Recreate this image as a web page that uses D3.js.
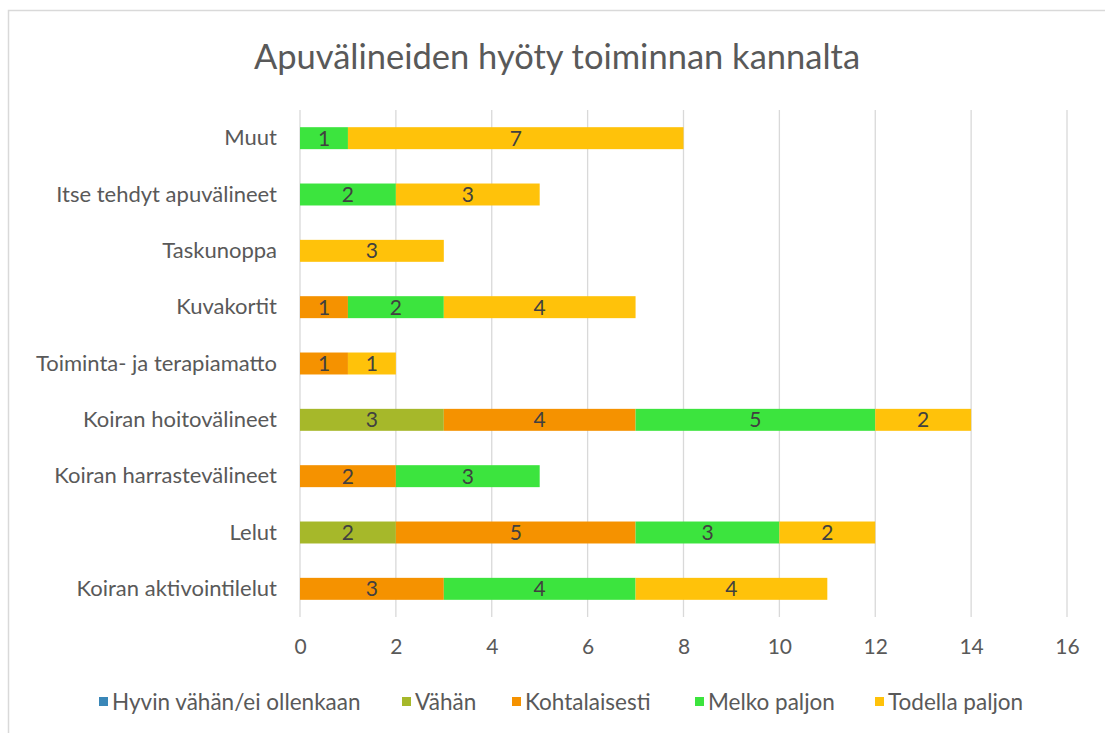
<!DOCTYPE html>
<html>
<head>
<meta charset="utf-8">
<script src="https://cdn.jsdelivr.net/npm/d3@7"></script>
<style>
  body { margin: 0; background: #fff; }
  text { font-family: Lato, "Open Sans", sans-serif; }
</style>
</head>
<body>
<script>
// data
var categories = ["Muut", "Itse tehdyt apuvälineet", "Taskunoppa", "Kuvakortit",
  "Toiminta- ja terapiamatto", "Koiran hoitovälineet", "Koiran harrastevälineet",
  "Lelut", "Koiran aktivointilelut"];
var seriesNames = ["Hyvin vähän/ei ollenkaan", "Vähän", "Kohtalaisesti", "Melko paljon", "Todella paljon"];
var hyvinVahan   = [0, 0, 0, 0, 0, 0, 0, 0, 0];
var vahan        = [0, 0, 0, 0, 0, 3, 0, 2, 0];
var kohtalaisesti= [0, 0, 0, 1, 1, 4, 2, 5, 3];
var melkoPaljon  = [1, 2, 0, 2, 0, 5, 3, 3, 4];
var todellaPaljon= [7, 3, 3, 4, 1, 2, 0, 2, 4];
var xTicks = [0, 2, 4, 6, 8, 10, 12, 14, 16];
var colors = ["#3A87B8", "#A6B82A", "#F59200", "#3CE43E", "#FFC20A"];

var W = 1105, H = 733;
var svg = d3.select("body").append("svg").attr("width", W).attr("height", H);

// frame
svg.append("rect").attr("x", 8.5).attr("y", 10.5).attr("width", W).attr("height", H)
  .attr("fill", "#fff").attr("stroke", "#D9D9D9").attr("stroke-width", 1.5);

svg.append("text").attr("x", 557).attr("y", 69).attr("text-anchor", "middle")
  .attr("font-size", 34.5).attr("fill", "#595959").text("Apuvälineiden hyöty toiminnan kannalta");

var pLeft = 300, pRight = 1067, pTop = 110, pBottom = 617;
var x = d3.scaleLinear().domain([0, 16]).range([pLeft, pRight]);
var y = d3.scaleBand().domain(categories).range([pTop, pBottom]).paddingInner(0.61).paddingOuter(0.305);

// grid
svg.append("g").selectAll("line").data(xTicks).enter().append("line")
  .attr("x1", function(d){ return x(d); }).attr("x2", function(d){ return x(d); })
  .attr("y1", pTop).attr("y2", pBottom)
  .attr("stroke", "#D9D9D9").attr("stroke-width", 1.3);

// stacked
var rows = categories.map(function(c, i){
  return { cat: c, s0: hyvinVahan[i], s1: vahan[i], s2: kohtalaisesti[i], s3: melkoPaljon[i], s4: todellaPaljon[i] };
});
var stack = d3.stack().keys(["s0", "s1", "s2", "s3", "s4"]);
var layers = stack(rows);

var lg = svg.selectAll("g.layer").data(layers).enter().append("g").attr("class", "layer")
  .attr("fill", function(d, i){ return colors[i]; });
lg.selectAll("rect").data(function(d){ return d; }).enter().append("rect")
  .attr("x", function(d){ return x(d[0]); })
  .attr("y", function(d){ return y(d.data.cat); })
  .attr("width", function(d){ return x(d[1]) - x(d[0]); })
  .attr("height", y.bandwidth());
lg.selectAll("text").data(function(d){ return d.filter(function(e){ return e[1] - e[0] > 0; }); })
  .enter().append("text")
  .attr("x", function(d){ return (x(d[0]) + x(d[1])) / 2; })
  .attr("y", function(d){ return y(d.data.cat) + y.bandwidth() / 2; })
  .attr("dy", "0.36em").attr("text-anchor", "middle")
  .attr("font-size", 21).attr("fill", "#404040")
  .text(function(d){ return d[1] - d[0]; });

// axes
var xAxis = d3.axisBottom(x).tickValues(xTicks).tickSize(0).tickPadding(22);
var gx = svg.append("g").attr("transform", "translate(0," + pBottom + ")").call(xAxis);
gx.select(".domain").remove();
gx.selectAll("text").attr("font-size", 21).attr("fill", "#595959").style("font-family", "Lato, sans-serif");

var yAxis = d3.axisLeft(y).tickSize(0).tickPadding(23);
var gy = svg.append("g").attr("transform", "translate(" + pLeft + ",0)").call(yAxis);
gy.select(".domain").remove();
gy.selectAll("text").attr("font-size", 22).attr("fill", "#595959").style("font-family", "Lato, sans-serif");

// legend
var legX = [99, 402, 512, 695, 875];
var leg = svg.selectAll("g.leg").data(seriesNames).enter().append("g").attr("class", "leg")
  .attr("transform", function(d, i){ return "translate(" + legX[i] + ",702)"; });
leg.append("rect").attr("x", 0).attr("y", -5).attr("width", 9).attr("height", 9)
  .attr("fill", function(d, i){ return colors[i]; });
leg.append("text").attr("x", 13).attr("dy", "0.35em").attr("font-size", 22.5)
  .attr("fill", "#595959").text(function(d){ return d; });
</script>
</body>
</html>
